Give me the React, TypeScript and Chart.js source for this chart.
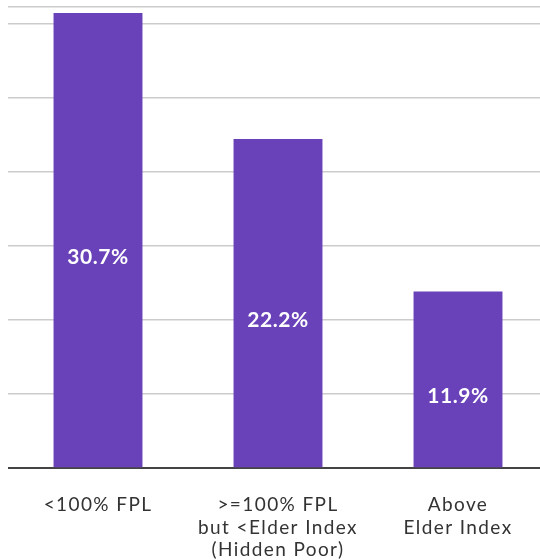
import React, { useEffect, useRef } from "react";
import { Chart, registerables } from "chart.js";

Chart.register(...registerables);

const categories: string[][] = [
  ["<100% FPL"],
  [">=100% FPL", "but <Elder Index", "(Hidden Poor)"],
  ["Above", "Elder Index"],
];
const values: number[] = [30.7, 22.2, 11.9];
const valueLabels: string[] = ["30.7%", "22.2%", "11.9%"];

const barColor = "#6941b9";

const spacingPlugin = {
  id: "tickSpacing",
  beforeDraw(chart: any) {
    (chart.ctx as any).letterSpacing = "1.4px";
  },
  afterDraw(chart: any) {
    (chart.ctx as any).letterSpacing = "0px";
  },
};

const valueLabelPlugin = {
  id: "valueLabels",
  afterDatasetsDraw(chart: any) {
    const ctx = chart.ctx;
    const meta = chart.getDatasetMeta(0);
    ctx.save();
    (ctx as any).letterSpacing = "0.6px";
    ctx.fillStyle = "#ffffff";
    ctx.font = "bold 21px Lato, 'Noto Sans', sans-serif";
    ctx.textAlign = "center";
    ctx.textBaseline = "middle";
    meta.data.forEach((bar: any, i: number) => {
      const cy = (bar.y + bar.base) / 2 + 17;
      ctx.fillText(valueLabels[i], bar.x, cy);
    });
    ctx.restore();
  },
};

export default function App() {
  const ref = useRef<HTMLCanvasElement | null>(null);
  useEffect(() => {
    if (!ref.current) return;
    const chart = new Chart(ref.current, {
      type: "bar",
      data: {
        labels: categories,
        datasets: [
          {
            data: values,
            backgroundColor: barColor,
            borderWidth: 0,
            categoryPercentage: 1,
            barPercentage: 0.494,
          },
        ],
      },
      options: {
        animation: false,
        responsive: false,
        maintainAspectRatio: false,
        layout: { padding: { top: 7, left: 0, right: 0, bottom: 0 } },
        plugins: {
          legend: { display: false },
          tooltip: { enabled: false },
        },
        scales: {
          x: {
            grid: { display: false, drawTicks: false },
            border: { display: true, color: "#444444", width: 2 },
            ticks: {
              color: "#333333",
              font: { family: "Lato, 'Noto Sans', sans-serif", size: 19, lineHeight: 1.18 },
              padding: 26,
              maxRotation: 0,
              autoSkip: false,
            },
            afterFit: (scale: any) => {
              scale.height = 92;
            },
          },
          y: {
            min: 0,
            max: 31.1,
            ticks: { display: false, stepSize: 5 },
            grid: { color: "#cccccc", lineWidth: 1.5, drawTicks: false },
            border: { display: false },
            afterFit: (scale: any) => {
              scale.width = 0;
            },
          },
        },
      },
      plugins: [spacingPlugin, valueLabelPlugin],
    });
    return () => chart.destroy();
  }, []);
  return (
    <div style={{ position: "absolute", left: 8, top: 0, width: 540, height: 560, background: "#fff" }}>
      <canvas ref={ref} width={540} height={560} style={{ display: "block" }} />
    </div>
  );
}
